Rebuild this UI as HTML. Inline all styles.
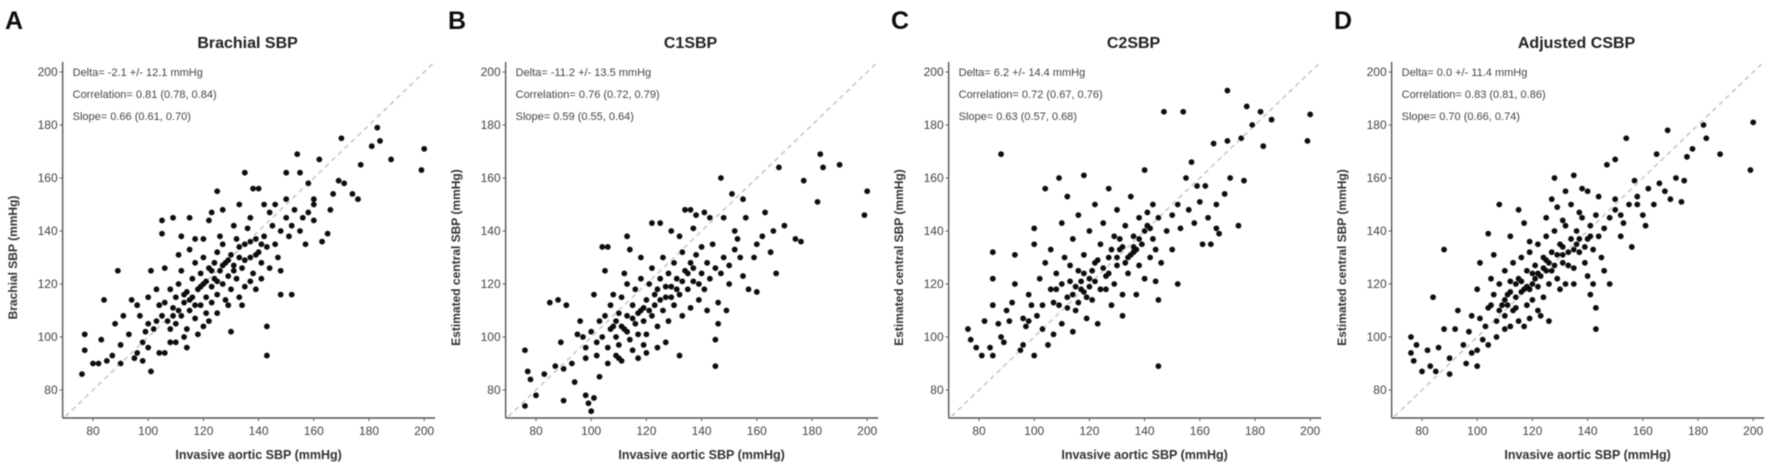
<!DOCTYPE html>
<html><head><meta charset="utf-8"><style>
body{margin:0;background:#fff;}
svg{display:block;font-family:"Liberation Sans",Arial,sans-serif;}
</style></head><body>
<svg id="fig" width="1772" height="469" viewBox="0 0 1772 469">
<defs><filter id="soft" x="-5%" y="-5%" width="110%" height="110%"><feGaussianBlur stdDeviation="0.6"/></filter></defs>
</svg>
<script>
const panelLetters=["A","B","C","D"];
const panelTitles=["Brachial SBP","C1SBP","C2SBP","Adjusted CSBP"];
const yTitles=["Brachial SBP (mmHg)","Estimated central SBP (mmHg)","Estimated central SBP (mmHg)","Estimated central SBP (mmHg)"];
const statDelta=["Delta= -2.1 +/- 12.1 mmHg","Delta= -11.2 +/- 13.5 mmHg","Delta= 6.2 +/- 14.4 mmHg","Delta= 0.0 +/- 11.4 mmHg"];
const statCorr=["Correlation= 0.81 (0.78, 0.84)","Correlation= 0.76 (0.72, 0.79)","Correlation= 0.72 (0.67, 0.76)","Correlation= 0.83 (0.81, 0.86)"];
const statSlope=["Slope= 0.66 (0.61, 0.70)","Slope= 0.59 (0.55, 0.64)","Slope= 0.63 (0.57, 0.68)","Slope= 0.70 (0.66, 0.74)"];
const xTicks=[80,100,120,140,160,180,200];
const yTicks=[80,100,120,140,160,180,200];
const pointsA=[[77,101],[77,95],[76,86],[80,90],[82,90],[83,99],[84,114],[85,91],[87,93],[88,105],[89,125],[90,97],[90,90],[91,108],[93,101],[94,114],[95,92],[96,94],[96,112],[98,91],[99,102],[100,96],[101,87],[101,125],[100,115],[104,94],[105,144],[105,139],[106,94],[108,98],[109,145],[110,98],[112,138],[114,96],[115,145],[117,137],[120,104],[122,144],[123,147],[125,155],[127,148],[130,102],[133,150],[135,162],[138,156],[140,156],[143,104],[143,93],[144,147],[148,116],[150,152],[150,162],[152,116],[154,169],[155,162],[157,135],[158,158],[160,152],[162,167],[163,136],[165,139],[166,148],[167,154],[169,159],[170,175],[171,158],[174,154],[176,152],[177,165],[181,172],[183,179],[184,174],[188,167],[199,163],[200,171],
[105,108],[106,113],[107,106],[108,118],[109,111],[110,105],[110,115],[111,120],[112,108],[112,125],[113,113],[114,117],[114,103],[115,110],[116,122],[116,115],[117,128],[117,107],[118,118],[119,112],[119,124],[120,120],[120,130],[121,115],[121,109],[122,126],[123,119],[123,113],[124,128],[124,122],[125,132],[125,116],[126,125],[127,120],[127,135],[128,128],[128,114],[129,123],[130,131],[130,118],[131,127],[132,137],[132,122],[133,130],[134,126],[135,135],[135,119],[136,141],[137,130],[138,124],[139,137],[140,132],[141,128],[142,138],[143,134],[144,126],[145,142],[146,135],[147,130],[148,140],[150,145],[151,138],[152,142],[153,148],[155,140],[156,145],[158,147],[160,150],[160,144],[103,106],[102,103],[104,112],[108,103],[113,100],[118,101],[122,106],[125,109],[129,112],[133,115],[137,121],[141,122],[100,105],[97,108],[98,98],[103,118],[106,126],[111,131],[115,133],[120,137],[126,138],[131,142],[137,145],[142,150],[146,150],[148,125],[139,118],[134,112],[109,108],[111,110],[113,116],[115,114],[117,112],[119,119],[121,121],[123,125],[125,121],[127,127],[129,129],[131,125],[133,134],[135,129],[137,136],[139,131],[141,135]];
const pointsB=[[76,95],[76,74],[77,87],[78,84],[80,78],[83,86],[85,113],[87,89],[88,114],[89,98],[90,88],[90,76],[91,112],[93,90],[94,83],[95,101],[96,106],[98,78],[98,96],[99,75],[100,72],[101,77],[101,116],[102,98],[103,85],[104,134],[105,125],[106,134],[109,93],[111,91],[113,138],[114,133],[117,92],[120,94],[122,143],[125,143],[127,98],[129,140],[132,93],[134,148],[136,148],[138,146],[141,147],[143,145],[145,99],[145,89],[147,160],[148,145],[149,110],[151,154],[153,137],[155,152],[156,145],[157,118],[159,130],[160,117],[162,138],[163,147],[165,132],[166,140],[167,124],[168,164],[170,142],[174,137],[176,136],[177,159],[182,151],[183,169],[184,164],[190,165],[199,146],[200,155],
[104,100],[105,108],[106,96],[107,112],[108,104],[109,100],[110,109],[110,97],[111,115],[112,103],[113,108],[113,120],[114,99],[115,112],[116,105],[116,118],[117,101],[118,110],[118,122],[119,106],[120,114],[120,101],[121,120],[122,108],[122,126],[123,112],[124,104],[124,118],[125,122],[126,110],[126,130],[127,115],[128,106],[128,124],[129,119],[130,128],[130,112],[131,122],[132,116],[133,132],[133,108],[134,125],[135,118],[136,128],[136,111],[137,121],[138,131],[139,114],[140,124],[140,134],[141,118],[142,128],[143,122],[144,135],[145,126],[146,113],[147,124],[148,130],[150,127],[152,133],[154,130],[155,123],[100,102],[102,93],[103,106],[97,100],[98,92],[106,90],[110,92],[115,95],[119,97],[124,96],[108,116],[112,124],[118,130],[132,138],[137,141],[142,110],[146,105],[150,120],[160,135],[152,140],[107,103],[109,106],[111,104],[113,102],[115,107],[117,109],[119,111],[121,110],[123,116],[125,114],[127,119],[129,115],[131,118],[133,121],[135,124],[137,126],[139,120]];
const pointsC=[[76,103],[77,99],[79,96],[81,93],[82,106],[84,96],[85,132],[85,122],[85,112],[85,93],[87,105],[88,100],[88,169],[89,98],[90,110],[91,106],[92,113],[93,131],[93,120],[95,95],[96,97],[96,107],[97,104],[98,116],[99,112],[100,93],[100,141],[100,135],[101,108],[102,122],[103,103],[104,156],[104,128],[105,97],[106,133],[106,118],[107,101],[108,124],[109,160],[109,112],[110,143],[110,105],[111,130],[112,115],[112,153],[113,121],[114,102],[114,137],[115,110],[116,125],[116,146],[117,118],[118,161],[118,131],[119,107],[120,122],[120,140],[121,114],[122,128],[122,150],[123,105],[124,135],[124,118],[125,143],[126,123],[127,156],[127,130],[128,112],[129,138],[129,120],[130,148],[130,127],[131,133],[132,108],[132,116],[133,142],[134,124],[135,153],[135,131],[136,138],[137,116],[138,145],[138,127],[139,135],[140,163],[140,122],[141,142],[142,130],[143,150],[143,137],[144,121],[145,114],[145,89],[145,145],[146,128],[147,185],[148,140],[150,146],[150,133],[152,120],[152,150],[153,141],[154,185],[155,160],[156,148],[157,166],[158,143],[159,157],[160,151],[161,135],[162,157],[163,145],[164,135],[165,173],[166,150],[166,141],[167,139],[169,154],[170,193],[170,174],[171,160],[174,142],[175,175],[176,159],[177,187],[179,180],[182,185],[183,172],[186,182],[199,174],[200,184],[108,118],[113,127],[117,121],[119,115],[126,118],[133,128],[137,133],[141,147],[144,133],[121,125],[110,120],[103,112],[98,106],[115,119],[118,124],[123,129],[128,133],[131,137],[136,134],[140,140],[112,111],[107,113],[114,116],[116,113],[118,117],[120,119],[122,121],[125,126],[127,124],[130,130],[132,134],[134,130],[136,132],[138,137],[142,141]];
const pointsD=[[76,100],[76,94],[77,91],[78,97],[80,87],[82,95],[83,89],[84,115],[85,87],[86,96],[88,133],[88,103],[90,92],[90,86],[92,103],[93,110],[95,97],[96,90],[97,102],[98,94],[100,95],[100,89],[101,128],[102,99],[104,97],[104,139],[105,112],[106,131],[108,150],[110,103],[112,138],[115,148],[117,143],[119,136],[122,110],[125,145],[126,106],[127,152],[128,160],[129,149],[131,144],[132,155],[134,150],[135,161],[137,147],[138,156],[140,155],[141,116],[142,120],[143,111],[143,103],[144,153],[146,125],[147,165],[148,120],[150,167],[150,152],[152,138],[153,143],[154,175],[156,134],[157,159],[158,150],[160,146],[161,142],[162,156],[164,150],[165,169],[166,158],[168,155],[169,178],[170,152],[172,160],[174,151],[175,159],[176,168],[178,171],[182,180],[183,175],[188,169],[199,163],[200,181],
[104,111],[106,116],[107,106],[108,120],[109,112],[110,108],[110,125],[111,116],[112,121],[113,110],[113,128],[114,115],[115,122],[115,106],[116,130],[117,118],[118,125],[118,112],[119,132],[120,120],[120,114],[121,127],[122,135],[122,119],[123,123],[124,130],[124,115],[125,138],[125,125],[126,120],[127,132],[128,127],[128,140],[129,122],[130,135],[131,128],[132,142],[132,120],[133,132],[134,137],[135,126],[136,140],[137,132],[138,145],[139,128],[140,137],[141,142],[142,133],[143,146],[144,138],[145,130],[146,141],[148,145],[150,148],[152,146],[155,150],[158,153],[103,104],[101,107],[107,100],[112,104],[117,104],[98,108],[100,118],[105,122],[119,107],[123,108],[130,118],[135,120],[140,123],[111,112],[116,117],[121,122],[126,128],[131,131],[136,135],[114,120],[119,118],[124,126],[108,110],[110,114],[112,117],[114,111],[116,121],[118,119],[120,124],[122,124],[125,129],[127,125],[129,131],[131,134],[133,127],[135,133],[137,137],[139,134],[141,138]];
const allPoints=[pointsA,pointsB,pointsC,pointsD];

const NS="http://www.w3.org/2000/svg";
const svg=document.getElementById("fig");
function mk(tag,attrs,parent){const e=document.createElementNS(NS,tag);for(const k in attrs)e.setAttribute(k,attrs[k]);(parent||svg).appendChild(e);return e;}
const PANEL_STEP=443, X80=93, XS=2.76, Y80=390, YS=2.65;
for(let p=0;p<4;p++){
  const off=p*PANEL_STEP;
  const sx=v=>X80+off+(v-80)*XS;
  const sy=v=>Y80-(v-80)*YS;
  const g=mk("g",{filter:"url(#soft)"});
  
  
  const axL=sx(69), axB=418;
  const letter=mk("text",{x:5+off,y:29,"font-size":25,"font-weight":"bold",fill:"#111"},g);
  letter.textContent=panelLetters[p];
  
  
  const t=mk("text",{x:sx(136),y:48,"font-size":16,"font-weight":"bold","text-anchor":"middle",fill:"#222"},g);
  t.textContent=panelTitles[p];
  
  
  const d=mk("line",{x1:sx(70),y1:sy(70),x2:sx(203),y2:sy(203),stroke:"#c8c8c8","stroke-width":1.6,"stroke-dasharray":"5,4"},g);
  
  
  const ya=mk("line",{x1:axL,y1:62,x2:axL,y2:axB,stroke:"#555","stroke-width":1.4},g);
  
  
  const xa=mk("line",{x1:axL,y1:axB,x2:sx(204),y2:axB,stroke:"#555","stroke-width":1.4},g);
  
  
  xTicks.forEach(v=>{
    mk("line",{x1:sx(v),y1:axB,x2:sx(v),y2:axB+3,stroke:"#555"},g);
    const l=mk("text",{x:sx(v),y:axB+17,"font-size":12,"text-anchor":"middle",fill:"#444"},g);
    l.textContent=v;
    
    
  });
  yTicks.forEach(v=>{
    mk("line",{x1:axL-3,y1:sy(v),x2:axL,y2:sy(v),stroke:"#555"},g);
    const l=mk("text",{x:axL-5,y:sy(v)+4,"font-size":12,"text-anchor":"end",fill:"#444"},g);
    l.textContent=v;
    
    
  });
  const xt=mk("text",{x:sx(140),y:459,"font-size":12.5,"font-weight":"bold","text-anchor":"middle",fill:"#333"},g);
  xt.textContent="Invasive aortic SBP (mmHg)";
  
  
  const yt=mk("text",{x:0,y:0,"font-size":12,"font-weight":"bold","text-anchor":"middle",fill:"#333",transform:`translate(${17+off},${sy(130)}) rotate(-90)`},g);
  yt.textContent=yTitles[p];
  
  
  [statDelta[p],statCorr[p],statSlope[p]].forEach((s,i)=>{
    const st=mk("text",{x:axL+10,y:76+i*22,"font-size":11,fill:"#444"},g);
    st.textContent=s;
    
    
  });
  allPoints[p].forEach(pt=>{
    const c=mk("circle",{cx:sx(pt[0]),cy:sy(pt[1]),r:2.9,fill:"#111"},g);
    
    
  });
}
</script>
</body></html>
